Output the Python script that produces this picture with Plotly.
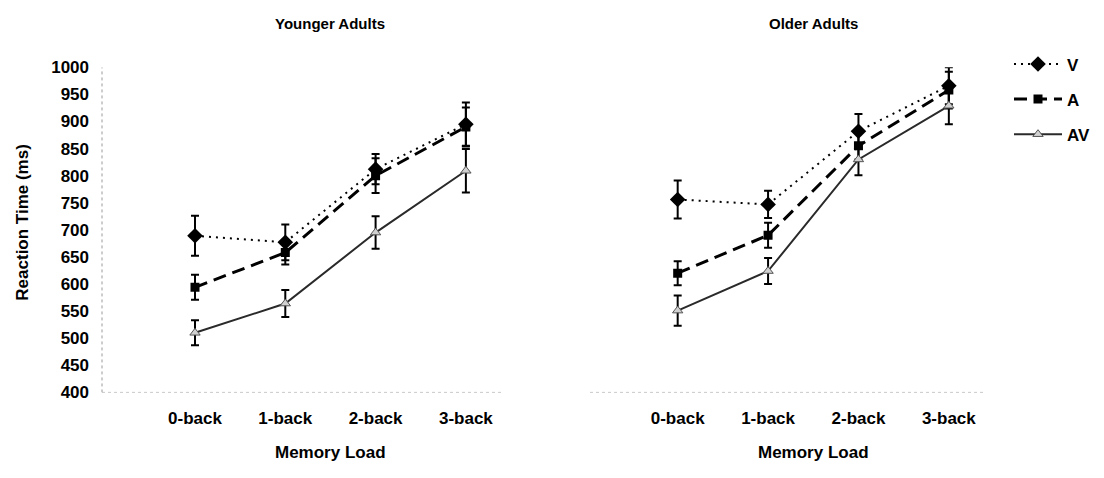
import plotly.graph_objects as go
from plotly.subplots import make_subplots

# Memory-load levels
loads = ["0-back", "1-back", "2-back", "3-back"]

# Mean reaction times (ms) and error-bar half widths, younger adults
young_v = [689, 677, 812, 895]
young_v_err = [37, 33, 28, 40]
young_a = [594, 658, 800, 890]
young_a_err = [23, 22, 32, 36]
young_av = [510, 564, 695, 809]
young_av_err = [23, 25, 30, 40]

# Mean reaction times (ms) and error-bar half widths, older adults
old_v = [756, 747, 882, 966]
old_v_err = [35, 25, 32, 34]
old_a = [620, 690, 855, 958]
old_a_err = [22, 23, 25, 34]
old_av = [551, 624, 830, 929]
old_av_err = [28, 24, 29, 34]

y_ticks = [400, 450, 500, 550, 600, 650, 700, 750, 800, 850, 900, 950, 1000]

W, H = 1104, 478
FONT = "Liberation Sans, Arial, sans-serif"

fig = make_subplots(rows=1, cols=2)

styles = {
    "V": dict(line=dict(color="black", width=2, dash="2px,5px"),
              marker=dict(symbol="diamond", size=12, color="black")),
    "A": dict(line=dict(color="black", width=3, dash="13px,7px"),
              marker=dict(symbol="square", size=9, color="black")),
    "AV": dict(line=dict(color="#2a2a2a", width=2, dash="solid"),
               marker=dict(symbol="triangle-up", size=9, color="#d0d0d0",
                           line=dict(color="#555", width=1))),
}

panels = [
    (1, {"V": (young_v, young_v_err), "A": (young_a, young_a_err),
         "AV": (young_av, young_av_err)}),
    (2, {"V": (old_v, old_v_err), "A": (old_a, old_a_err),
         "AV": (old_av, old_av_err)}),
]

for col, series in panels:
    for name in ["V", "A", "AV"]:
        vals, errs = series[name]
        fig.add_trace(
            go.Scatter(
                x=loads, y=vals, name=name, mode="lines+markers",
                line=styles[name]["line"], marker=styles[name]["marker"],
                error_y=dict(type="data", array=errs, visible=True,
                             color="black", thickness=2, width=4),
                legendgroup=name, showlegend=(col == 1),
            ),
            row=1, col=col,
        )

y_dom = [1 - 399.3 / H, 1 - 60.7 / H]
tick_font = dict(family=FONT, size=17, color="black", weight="bold")

fig.update_layout(
    width=W, height=H, autosize=False,
    margin=dict(l=0, r=0, t=0, b=0),
    paper_bgcolor="white", plot_bgcolor="white",
    font=dict(family=FONT, color="black"),
    xaxis=dict(domain=[102 / W, 502 / W], type="category",
               range=[-1.03, 3.4]),
    xaxis2=dict(domain=[590 / W, 985 / W], type="category",
                range=[-0.97, 3.4]),
    yaxis=dict(domain=y_dom, range=[400, 1000], tickvals=y_ticks,
               ticktext=[str(v) for v in y_ticks], showticklabels=True,
               ticklabelstandoff=12),
    yaxis2=dict(domain=y_dom, range=[400, 1000], showticklabels=False),
    legend=dict(x=1009 / W, y=1 - 39 / H, xanchor="left", yanchor="top",
                font=dict(family=FONT, size=17, color="black", weight="bold"),
                tracegroupgap=10, itemwidth=48, bgcolor="rgba(0,0,0,0)"),
)

for ax in ["xaxis", "xaxis2"]:
    fig.layout[ax].update(showgrid=False, zeroline=False, showline=False,
                          ticks="", tickfont=tick_font, ticklabelstandoff=14)
for ax in ["yaxis", "yaxis2"]:
    fig.layout[ax].update(showgrid=False, zeroline=False, showline=False,
                          ticks="", tickfont=tick_font)

# Faint dotted axis lines
dotted = dict(color="#9a9a9a", width=1, dash="dot")
fig.add_shape(type="line", xref="x domain", yref="y", x0=0, x1=0,
              y0=400, y1=1000, line=dotted)
fig.add_shape(type="line", xref="x domain", yref="y", x0=0, x1=1,
              y0=400, y1=400, line=dotted)
fig.add_shape(type="line", xref="x2 domain", yref="y2", x0=0, x1=1,
              y0=400, y1=400, line=dotted)

# Panel titles and axis titles
title_font = dict(family=FONT, size=15, color="black", weight="bold")
label_font = dict(family=FONT, size=17, color="black", weight="bold")
for xref, title in [("x", "Younger Adults"), ("x2", "Older Adults")]:
    fig.add_annotation(text=title, xref=xref, x=1.5, yref="paper",
                       y=1 - 15 / H, yanchor="middle", showarrow=False,
                       font=title_font)
    fig.add_annotation(text="Memory Load", xref=xref, x=1.5, yref="paper",
                       y=1 - 462 / H, yanchor="middle", showarrow=False,
                       font=label_font)

fig.add_annotation(text="Reaction Time (ms)", xref="paper", x=22.5 / W,
                   yref="paper", y=1 - 222 / H, xanchor="center",
                   yanchor="middle", textangle=-90, showarrow=False,
                   font=label_font)

fig.write_html("out.html")
